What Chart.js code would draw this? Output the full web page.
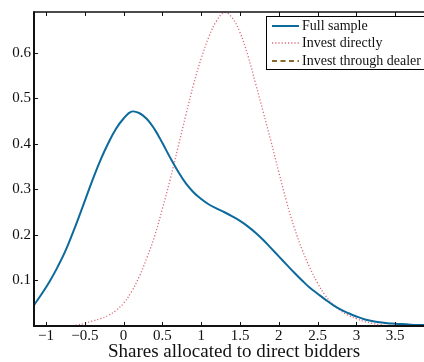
<!DOCTYPE html>
<html>
<head>
<meta charset="utf-8">
<script src="https://cdn.jsdelivr.net/npm/chart.js@4/dist/chart.umd.min.js"></script>
<style>
html, body { margin: 0; padding: 0; overflow: hidden; background: #fff; width: 424px; height: 362px; }
canvas { display: block; }
</style>
</head>
<body>
<canvas id="c" width="434" height="362"></canvas>
<script>
// ---- data ----
const fullX = [-1.155, -1.05, -0.95, -0.85, -0.75, -0.65, -0.6, -0.5, -0.4, -0.3, -0.2, -0.1, 0.0, 0.1, 0.2, 0.3, 0.4, 0.5, 0.6, 0.7, 0.8, 0.9, 1.0, 1.1, 1.2, 1.3, 1.4, 1.5, 1.6, 1.7, 1.8, 1.9, 2.0, 2.1, 2.2, 2.3, 2.4, 2.5, 2.6, 2.7, 2.8, 2.9, 3.0, 3.1, 3.2, 3.3, 3.4, 3.5, 3.7, 3.9, 4.0];
const fullY = [0.046, 0.072, 0.099, 0.13, 0.165, 0.207, 0.229, 0.275, 0.321, 0.364, 0.401, 0.433, 0.456, 0.471, 0.468, 0.455, 0.432, 0.402, 0.37, 0.34, 0.314, 0.294, 0.279, 0.267, 0.258, 0.25, 0.241, 0.231, 0.219, 0.205, 0.189, 0.171, 0.153, 0.135, 0.117, 0.1, 0.084, 0.071, 0.058, 0.046, 0.036, 0.028, 0.021, 0.015, 0.011, 0.008, 0.006, 0.005, 0.003, 0.002, 0.001];

const directX = [-1.155, -0.8, -0.7, -0.6, -0.5, -0.4, -0.3, -0.2, -0.1, 0.0, 0.1, 0.2, 0.3, 0.4, 0.5, 0.6, 0.7, 0.8, 0.9, 1.0, 1.1, 1.2, 1.3, 1.4, 1.5, 1.6, 1.7, 1.8, 1.9, 2.0, 2.1, 2.2, 2.3, 2.4, 2.5, 2.6, 2.7, 2.8, 2.9, 3.0, 3.1, 3.2, 3.3, 3.4, 3.5, 3.7, 4.0];
const directY = [0.0, 0.0, 0.0, 0.002, 0.006, 0.011, 0.016, 0.023, 0.034, 0.05, 0.075, 0.108, 0.15, 0.198, 0.258, 0.322, 0.392, 0.462, 0.53, 0.588, 0.636, 0.671, 0.689, 0.677, 0.645, 0.595, 0.533, 0.47, 0.405, 0.338, 0.273, 0.216, 0.168, 0.128, 0.094, 0.067, 0.047, 0.033, 0.023, 0.016, 0.01, 0.006, 0.003, 0.001, 0.0, 0.0, 0.0];

const dealerX = [];
const dealerY = [];

const seriesNames = ['Full sample', 'Invest directly', 'Invest through dealer'];
const xTickValues = [-1, -0.5, 0, 0.5, 1, 1.5, 2, 2.5, 3, 3.5];
const xTickLabels = ['\u22121', '\u22120.5', '0', '0.5', '1', '1.5', '2', '2.5', '3', '3.5'];
const yTickValues = [0.1, 0.2, 0.3, 0.4, 0.5, 0.6];
const yTickLabels = ['0.1', '0.2', '0.3', '0.4', '0.5', '0.6'];
const xTitle = 'Shares allocated to direct bidders';

const SERIF = '"Liberation Serif", "Times New Roman", serif';
const toPts = (xs, ys) => xs.map((x, i) => ({ x: x, y: ys[i] }));

const framePlugin = {
  id: 'frame',
  afterDatasetsDraw(chart) {
    const ctx = chart.ctx;
    const a = chart.chartArea;
    const xs = chart.scales.x, ys = chart.scales.y;
    ctx.save();
    ctx.strokeStyle = '#111';
    // ticks (inward)
    ctx.lineWidth = 1;
    xTickValues.forEach(v => {
      const px = Math.round(xs.getPixelForValue(v)) + 0.5;
      ctx.beginPath();
      ctx.moveTo(px, a.bottom); ctx.lineTo(px, a.bottom - 4);
      ctx.moveTo(px, a.top); ctx.lineTo(px, a.top + 4);
      ctx.stroke();
    });
    yTickValues.forEach(v => {
      const py = Math.round(ys.getPixelForValue(v)) + 0.5;
      ctx.beginPath();
      ctx.moveTo(a.left, py); ctx.lineTo(a.left + 4, py);
      ctx.stroke();
    });
    // frame
    ctx.lineWidth = 1.5;
    ctx.beginPath();
    ctx.moveTo(a.left, a.top); ctx.lineTo(a.right + 2, a.top);
    ctx.stroke();
    ctx.lineWidth = 2;
    ctx.beginPath();
    ctx.moveTo(a.left, a.top - 0.75); ctx.lineTo(a.left, a.bottom + 1);
    ctx.moveTo(a.left - 1, a.bottom); ctx.lineTo(a.right + 2, a.bottom);
    ctx.stroke();

    // legend box
    const bx = 266, by = 16, bw = 180, bh = 53;
    ctx.fillStyle = '#fff';
    ctx.fillRect(bx, by, bw, bh);
    ctx.lineWidth = 1;
    ctx.strokeStyle = '#000';
    ctx.strokeRect(bx + 0.5, by + 0.5, bw, bh);
    const rows = [26, 43, 61];
    chart.data.datasets.forEach((ds, i) => {
      const y = rows[i];
      ctx.save();
      ctx.strokeStyle = ds.borderColor;
      ctx.lineWidth = ds.borderWidth;
      ctx.setLineDash(ds.borderDash || []);
      ctx.beginPath();
      ctx.moveTo(272, y); ctx.lineTo(299, y);
      ctx.stroke();
      ctx.restore();
      ctx.fillStyle = '#111';
      ctx.font = '14px ' + SERIF;
      ctx.textBaseline = 'middle';
      ctx.textAlign = 'left';
      ctx.fillText(ds.label, 302, y + 0.5);
    });
    ctx.restore();
  }
};

new Chart(document.getElementById('c'), {
  type: 'line',
  data: {
    datasets: [
      { label: seriesNames[0], data: toPts(fullX, fullY), borderColor: '#0b6a9b', borderWidth: 2, pointRadius: 0, tension: 0.4, fill: false },
      { label: seriesNames[1], data: toPts(directX, directY), borderColor: '#dd6a7a', borderWidth: 1.3, borderDash: [1.2, 2], pointRadius: 0, tension: 0.4, fill: false },
      { label: seriesNames[2], data: toPts(dealerX, dealerY), borderColor: '#8a6a2a', borderWidth: 2, borderDash: [5, 3.5], pointRadius: 0, tension: 0.4, fill: false }
    ]
  },
  options: {
    responsive: false,
    animation: false,
    devicePixelRatio: 1,
    layout: { padding: { top: 12, right: 0, bottom: 0, left: 0 } },
    plugins: { legend: { display: false }, tooltip: { enabled: false } },
    scales: {
      x: {
        type: 'linear', min: -1.155, max: 4.0,
        grid: { display: false, drawTicks: false },
        border: { display: false },
        afterBuildTicks: s => { s.ticks = xTickValues.map(v => ({ value: v })); },
        afterFit: s => { s.height = 36; },
        ticks: {
          padding: 1, color: '#111', maxRotation: 0, autoSkip: false,
          font: { family: SERIF, size: 15 },
          callback: (v) => { const i = xTickValues.indexOf(v); return i >= 0 ? xTickLabels[i] : ''; }
        },
        title: { display: true, text: xTitle, color: '#111', font: { family: SERIF, size: 19, lineHeight: 1.0 }, padding: { top: 0, bottom: 0 } }
      },
      y: {
        type: 'linear', min: 0, max: 0.69,
        grid: { display: false, drawTicks: false },
        border: { display: false },
        afterBuildTicks: s => { s.ticks = yTickValues.map(v => ({ value: v })); },
        afterFit: s => { s.width = 34; },
        ticks: {
          padding: 3, color: '#111', autoSkip: false,
          font: { family: SERIF, size: 15 },
          callback: (v) => { const i = yTickValues.indexOf(v); return i >= 0 ? yTickLabels[i] : ''; }
        }
      }
    }
  },
  plugins: [framePlugin]
});
</script>
</body>
</html>
